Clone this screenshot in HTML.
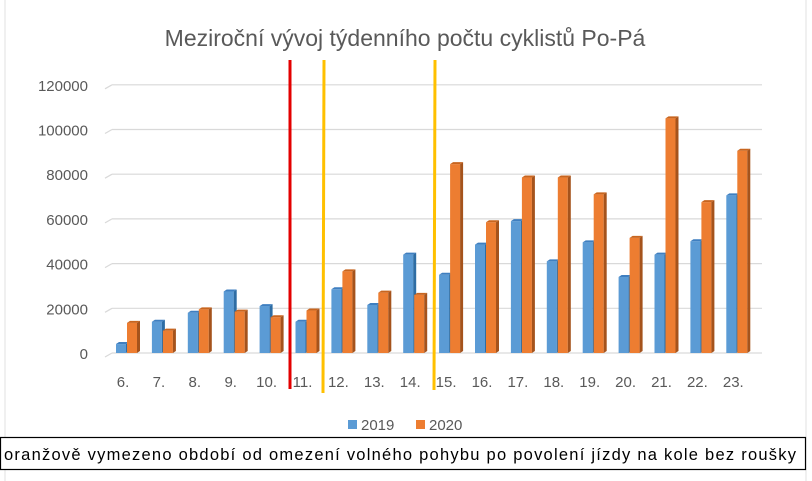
<!DOCTYPE html>
<html><head><meta charset="utf-8"><style>
body{margin:0;background:#fff;}
svg{display:block;font-family:"Liberation Sans",sans-serif;}
</style></head><body>
<svg width="812" height="481" viewBox="0 0 812 481">
<line x1="5" y1="0" x2="5" y2="481" stroke="#e2e2e2"/>
<line x1="806" y1="0" x2="806" y2="481" stroke="#e2e2e2"/>
<text x="405" y="46" text-anchor="middle" font-size="23" fill="#595959">Meziroční vývoj týdenního počtu cyklistů Po-Pá</text>
<g id="grid"></g><g id="ylabels"></g><g id="bars"></g><g id="xlabels"></g>
<line x1="290" y1="60" x2="290" y2="389" stroke="#e30000" stroke-width="3"/>
<line x1="324" y1="60" x2="323" y2="393" stroke="#ffc000" stroke-width="3"/>
<line x1="435" y1="60" x2="434" y2="390" stroke="#ffc000" stroke-width="3"/>
<g>
<rect x="348" y="420" width="9" height="9" fill="#5b9bd5"/>
<text x="361" y="430" font-size="15" fill="#595959">2019</text>
<rect x="416" y="420" width="9" height="9" fill="#ed7d31"/>
<text x="429" y="430" font-size="15" fill="#595959">2020</text>
</g>
<rect x="0.5" y="437.5" width="805" height="32" fill="#fff" stroke="#000" stroke-width="1.2"/>
<text x="4" y="460" font-size="16.5" fill="#000" textLength="792">oranžově vymezeno období od omezení volného pohybu po povolení jízdy na kole bez roušky</text>
</svg>
<script>
const categories=["6.","7.","8.","9.","10.","11.","12.","13.","14.","15.","16.","17.","18.","19.","20.","21.","22.","23."];
const values2019=[4000,14000,18000,27500,21000,14000,28500,21500,44000,35000,48500,59000,41000,49500,34000,44000,50000,70500];
const values2020=[13500,10000,19500,18500,16000,19000,36500,27000,26000,84500,58500,78500,78500,71000,51500,105000,67500,90500];
const yTicks=[0,20000,40000,60000,80000,100000,120000];
const NS="http://www.w3.org/2000/svg";
const y=v=>353-v/20000*44.7;
const x=i=>127+i*35.9;
function mk(tag,attrs,parent){const e=document.createElementNS(NS,tag);for(const k in attrs)e.setAttribute(k,attrs[k]);document.getElementById(parent).appendChild(e);return e;}
yTicks.forEach(t=>{
  const l=mk('line',{x1:112,y1:y(t),x2:762,y2:y(t),stroke:'#d9d9d9','stroke-width':1.2},'grid');
  
  
  const s=mk('line',{x1:105,y1:y(t)+4,x2:112,y2:y(t),stroke:'#d9d9d9','stroke-width':1.2},'grid');
  
  
  const tx=mk('text',{x:88,y:y(t)+6,'text-anchor':'end','font-size':15,fill:'#595959'},'ylabels');
  tx.textContent=t;
  
  
});
function bar(cx,v,front,side,top,name){
  const w=10,d=3,b=353,t=y(v);
  const g=mk('g',{},'bars');
  
  
  const pts=(a)=>a.map(p=>p.join(',')).join(' ');
  const f=document.createElementNS(NS,'rect');f.setAttribute('x',cx);f.setAttribute('y',t);f.setAttribute('width',w);f.setAttribute('height',b-t);f.setAttribute('fill',front);g.appendChild(f);
  const s=document.createElementNS(NS,'polygon');s.setAttribute('points',pts([[cx+w,t],[cx+w+d,t-2],[cx+w+d,b-2],[cx+w,b]]));s.setAttribute('fill',side);g.appendChild(s);
  const tp=document.createElementNS(NS,'polygon');tp.setAttribute('points',pts([[cx,t],[cx+d,t-2],[cx+w+d,t-2],[cx+w,t]]));tp.setAttribute('fill',top);g.appendChild(tp);
}
categories.forEach((c,i)=>{
  const cx=x(i);
  bar(cx-11,values2019[i],'#5b9bd5','#2e6da4','#3f7fc0','bar-2019-'+c);
  bar(cx,values2020[i],'#ed7d31','#a5531c','#c8651f','bar-2020-'+c);
  const tx=mk('text',{x:cx-4,y:387,'text-anchor':'middle','font-size':15,fill:'#595959'},'xlabels');
  tx.textContent=c;
  
  
});
</script>
</body></html>
